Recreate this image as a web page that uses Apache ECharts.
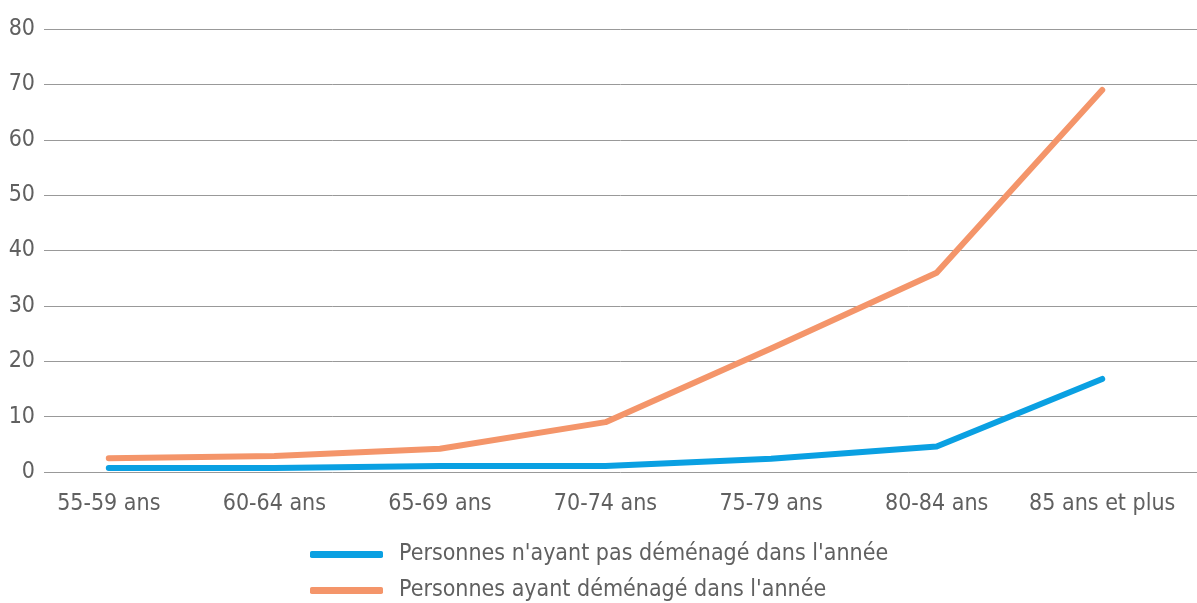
<!DOCTYPE html>
<html>
<head>
<meta charset="utf-8">
<style>
    html, body { margin: 0; padding: 0; background: #fff; }
    #chart { width: 1197px; height: 603px; }
</style>
<script src="https://cdn.jsdelivr.net/npm/echarts@6/dist/echarts.min.js"></script>
</head>
<body>
<div id="chart"></div>
<script>
    // categories & values
    var categories = ['55-59 ans', '60-64 ans', '65-69 ans', '70-74 ans', '75-79 ans', '80-84 ans', '85 ans et plus'];
    var nonMoved = [0.7, 0.7, 1.1, 1.1, 2.4, 4.6, 16.8];
    var moved = [2.5, 2.9, 4.2, 9.0, 22.3, 36.0, 69.0];
    var seriesNames = ["Personnes n'ayant pas déménagé dans l'année", "Personnes ayant déménagé dans l'année"];

    var font = '"DejaVu Sans Condensed", sans-serif';
    var txt = { fontFamily: font, fontSize: 23, color: '#606060', padding: [0, 0, 0, 11] };
    function legendAt(top, name) {
        return {
            left: 305,
            top: top,
            itemWidth: 73,
            itemHeight: 7,
            icon: 'roundRect',
            textStyle: txt,
            data: [name]
        };
    }
    var chart = echarts.init(document.getElementById('chart'));
    var option = {
        animation: false,
        legend: [legendAt(538, seriesNames[0]), legendAt(574, seriesNames[1])],
        grid: [
            // grid 0 only carries the horizontal grid lines and y labels
            { left: 44, right: 0, top: 29, bottom: 131 },
            { left: 26, right: 12, top: 29, bottom: 131 }
        ],
        xAxis: [
            { type: 'category', gridIndex: 0, show: false, data: categories },
            {
                type: 'category',
                gridIndex: 1,
                data: categories,
                axisLine: { show: false },
                axisTick: { show: false },
                axisLabel: { fontFamily: font, fontSize: 23, color: '#606060', margin: 21, interval: 0 }
            }
        ],
        yAxis: [
            {
                type: 'value',
                gridIndex: 0,
                min: 0, max: 80, interval: 10,
                axisLine: { show: false },
                axisTick: { show: false },
                axisLabel: { fontFamily: font, fontSize: 23, color: '#606060', margin: 9 },
                splitLine: { lineStyle: { color: '#999', width: 1 } }
            },
            {
                type: 'value',
                gridIndex: 1,
                min: 0, max: 80, interval: 10,
                show: false
            }
        ],
        series: [
            {
                name: seriesNames[0],
                type: 'line',
                xAxisIndex: 1, yAxisIndex: 1,
                data: nonMoved,
                showSymbol: false,
                color: '#0aa0e2',
                lineStyle: { width: 6, cap: 'round', join: 'round' }
            },
            {
                name: seriesNames[1],
                type: 'line',
                xAxisIndex: 1, yAxisIndex: 1,
                data: moved,
                showSymbol: false,
                color: '#f4956a',
                lineStyle: { width: 6, cap: 'round', join: 'round' }
            }
        ]
    };
    chart.setOption(option);
</script>
</body>
</html>
